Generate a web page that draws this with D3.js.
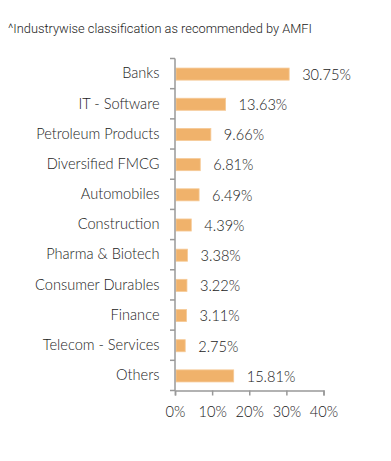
<!DOCTYPE html>
<html>
<head>
<meta charset="utf-8">
<script src="https://cdn.jsdelivr.net/npm/d3@7"></script>
<style>
html,body{margin:0;padding:0;background:#fff;}
svg{display:block;}
</style>
</head>
<body>
<svg id="chart" width="391" height="461"></svg>
<script>
const title = "^Industrywise classification as recommended by AMFI";
const categories = ["Banks","IT - Software","Petroleum Products","Diversified FMCG","Automobiles","Construction","Pharma & Biotech","Consumer Durables","Finance","Telecom - Services","Others"];
const values = [30.75,13.63,9.66,6.81,6.49,4.39,3.38,3.22,3.11,2.75,15.81];
const xTicks = [0,10,20,30,40];

const svg = d3.select("#chart");
const margin = {left:175, top:58.5, right:67.5, bottom:70.5};
const W = 391, H = 461;

svg.append("text")
  .attr("x", 8).attr("y", 33)
  .attr("font-family", "Roboto, sans-serif")
  .attr("font-weight", 300)
  .attr("font-size", 12.8)
  .attr("fill", "#222")
  .text(title);

const x = d3.scaleLinear().domain([0,40]).range([margin.left, W - margin.right]);
const y = d3.scaleBand().domain(categories).range([margin.top, H - margin.bottom]).paddingInner(0.6).paddingOuter(0.3);

const data = categories.map((c,i)=>({c, v: values[i]}));

svg.append("g").selectAll("rect").data(data).enter().append("rect")
  .attr("x", x(0) + 1)
  .attr("y", d => y(d.c) + 0.5)
  .attr("width", d => x(d.v) - x(0) - 1)
  .attr("height", y.bandwidth())
  .attr("fill", "#F0B26B")
  .attr("stroke", "#F6CA97")
  .attr("stroke-width", 0.8);

const txt = sel => sel.attr("font-family", "Lato, sans-serif").attr("font-weight", 300).attr("font-size", 14.6).attr("fill", "#1a1a1a");

svg.append("g").selectAll("text").data(data).enter().append("text")
  .attr("x", d => x(d.v) + 13)
  .attr("y", d => y(d.c) + y.bandwidth()/2 + 6.3)
  .call(txt)
  .text(d => d.v.toFixed(2) + "%");

// y axis with ticks between categories
const yAxisG = svg.append("g");
const yTop = margin.top, yBot = H - margin.bottom;
yAxisG.append("line").attr("x1", x(0)).attr("x2", x(0)).attr("y1", yTop).attr("y2", yBot)
  .attr("stroke", "#999").attr("stroke-width", 1.5);
const bounds = d3.range(categories.length + 1).map(i => yTop + i * (yBot - yTop) / categories.length);
yAxisG.selectAll("line.t").data(bounds).enter().append("line").attr("class","t")
  .attr("x1", x(0) - 5).attr("x2", x(0)).attr("y1", d => d).attr("y2", d => d)
  .attr("stroke", "#999").attr("stroke-width", 1.5);
yAxisG.selectAll("text").data(categories).enter().append("text")
  .attr("x", 159.5)
  .attr("y", (d, i) => (bounds[i] + bounds[i+1]) / 2 + 4.8)
  .attr("text-anchor", "end")
  .call(txt)
  .text(d => d);

// x axis
const xAxis = d3.axisBottom(x).tickValues(xTicks).tickFormat(d => d + "%").tickSize(5).tickPadding(11);
const xg = svg.append("g").attr("transform", `translate(0,${yBot})`).call(xAxis);
xg.select(".domain").attr("stroke", "#999").attr("stroke-width", 1.5);
xg.selectAll(".tick line").attr("stroke", "#999").attr("stroke-width", 1.5);
xg.selectAll(".tick text").call(txt);
</script>
</body>
</html>
